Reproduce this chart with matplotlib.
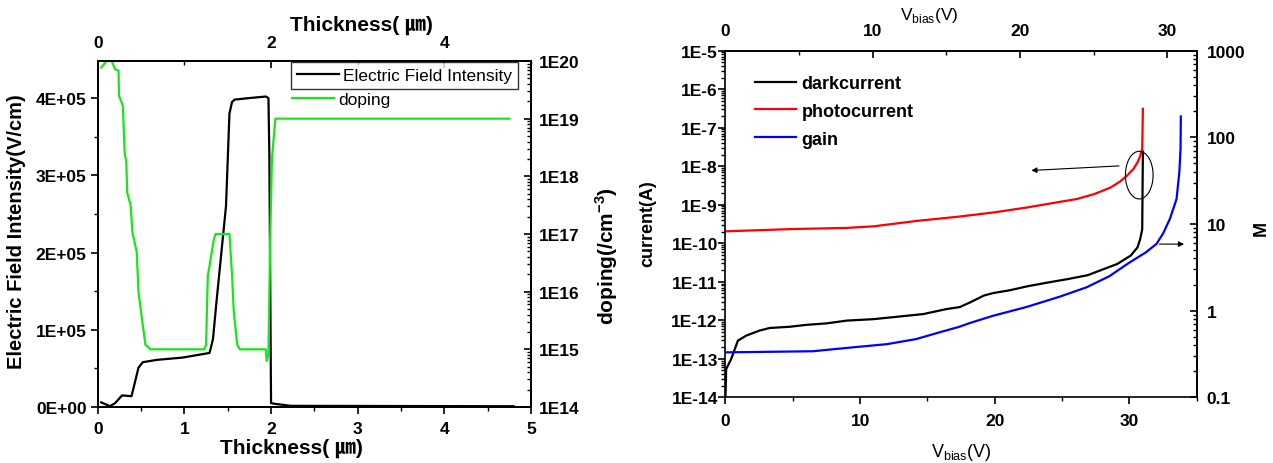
import math
import matplotlib
matplotlib.use('Agg')
import matplotlib.pyplot as plt
from matplotlib.ticker import MultipleLocator, LogLocator, FuncFormatter, NullFormatter
from matplotlib.patches import Ellipse

plt.rcParams['font.family'] = ['Liberation Sans', 'Noto Sans CJK JP', 'DejaVu Sans']
plt.rcParams['mathtext.fontset'] = 'custom'
plt.rcParams['mathtext.rm'] = 'Liberation Sans'
plt.rcParams['mathtext.bf'] = 'Liberation Sans:bold'

# Левый график: напряжённость поля и легирование по толщине
thick_e = [0.04, 0.10, 0.14, 0.20, 0.28, 0.39, 0.47, 0.52, 0.68, 0.98, 1.29, 1.33,
           1.37, 1.48, 1.52, 1.55, 1.58, 1.75, 1.94, 1.97, 1.98, 2.00, 2.05, 2.23, 4.80]
e_field = [6e3, 3e3, 1e3, 5e3, 1.5e4, 1.4e4, 5.1e4, 5.8e4, 6.1e4, 6.4e4, 7.0e4, 8.8e4,
           1.36e5, 2.6e5, 3.8e5, 3.95e5, 3.98e5, 4.0e5, 4.02e5, 4.0e5, 3.3e5, 5e3, 4e3, 1.5e3, 1e3]

thick_d = [0.04, 0.10, 0.16, 0.20, 0.24, 0.245, 0.29, 0.31, 0.33, 0.34, 0.38, 0.40, 0.45,
           0.47, 0.52, 0.55, 0.61, 1.23, 1.25, 1.27, 1.29, 1.34, 1.36, 1.52, 1.55, 1.57,
           1.61, 1.64, 1.94, 1.95, 1.97, 1.99, 2.01, 2.05, 4.75]
doping = [7.7e19, 1e20, 1e20, 7.2e19, 6.8e19, 2.5e19, 1.66e19, 2.6e18, 1.7e18, 5.2e17,
          3.1e17, 1.07e17, 4.8e16, 9.8e15, 2.6e15, 1.2e15, 1.0e15, 1.0e15, 1.2e15, 1.9e16,
          2.8e16, 8.1e16, 1e17, 1e17, 1.9e16, 4.4e15, 1.2e15, 1e15, 1e15, 6.3e14, 8e14,
          7.9e16, 2e18, 1e19, 1e19]

# Правый график: темновой ток, фототок, усиление
v_dark = [0, 0.05, 0.42, 0.92, 1.54, 2.53, 3.28, 4.8, 6.0, 7.5, 9.0, 11.0, 13.0, 14.7,
          16.4, 17.4, 18.2, 19.2, 19.9, 21.1, 22.4, 23.9, 25.4, 26.9, 28.1, 29.1, 30.1,
          30.6, 30.8, 30.95, 31.0]
i_dark = [1.1e-14, 5.4e-14, 9.8e-14, 2.95e-13, 4.0e-13, 5.4e-13, 6.3e-13, 6.8e-13, 7.6e-13,
          8.3e-13, 9.8e-13, 1.07e-12, 1.26e-12, 1.45e-12, 1.95e-12, 2.2e-12, 2.95e-12,
          4.4e-12, 5.1e-12, 6.0e-12, 7.6e-12, 9.5e-12, 1.17e-11, 1.48e-11, 2.14e-11,
          2.9e-11, 4.8e-11, 7.8e-11, 1.29e-10, 2.3e-10, 2.4e-8]

v_photo = [0, 5.0, 9.0, 11.0, 14.2, 17.3, 19.9, 22.4, 24.9, 26.1, 27.4, 28.6, 29.3, 29.8,
           30.3, 30.6, 30.8, 30.95, 31.0]
i_photo = [2.04e-10, 2.34e-10, 2.5e-10, 2.75e-10, 3.8e-10, 4.9e-10, 6.3e-10, 8.5e-10,
           1.2e-9, 1.41e-9, 1.9e-9, 2.8e-9, 4.0e-9, 5.6e-9, 8.5e-9, 1.26e-8, 1.86e-8,
           2.8e-8, 3.1e-7]

v_gain = [0, 5.93, 8.84, 10.94, 12.95, 14.5, 15.86, 16.6, 18.14, 20.42, 22.7, 24.52,
          26.07, 27.44, 28.54, 29.27, 29.72, 30.18, 30.63, 30.82, 30.9, 30.92]
gain = [0.33, 0.34, 0.38, 0.41, 0.47, 0.56, 0.65, 0.72, 0.87, 1.10, 1.45, 1.86, 2.5, 3.6,
        4.7, 5.9, 7.8, 11.5, 19.5, 40, 74, 174]

green = '#19e619'
TICK_SIZE = 12.5


def style_ticks(ax, axis, direction, pad):
    ax.tick_params(axis=axis, which='major', direction=direction, length=5, width=1.2, pad=pad)
    ax.tick_params(axis=axis, which='minor', direction=direction, length=3, width=1.0)
    labels = ax.get_xticklabels() if axis == 'x' else ax.get_yticklabels()
    for t in labels:
        t.set_fontsize(TICK_SIZE)
        t.set_fontweight('bold')


def exp_label(v, p):
    return '1E%d' % round(math.log10(v))


fig = plt.figure(figsize=(12.73, 4.64), dpi=100)

# ---------- левый график ----------
ax1 = fig.add_axes([0.0768, 0.1207, 0.3403, 0.7457])
ax2 = ax1.twinx()
ax3 = ax1.twiny()

line_e, = ax1.plot(thick_e, e_field, color='black', lw=1.6, label='Electric Field Intensity')
line_d, = ax2.plot(thick_d, doping, color=green, lw=1.6, label='doping')

ax1.set_xlim(0, 5)
ax1.set_ylim(0, 4.48e5)
ax1.xaxis.set_major_locator(MultipleLocator(1))
ax1.xaxis.set_minor_locator(MultipleLocator(0.5))
ax1.yaxis.set_major_locator(MultipleLocator(1e5))
ax1.yaxis.set_minor_locator(MultipleLocator(0.5e5))
ax1.yaxis.set_major_formatter(FuncFormatter(lambda v, p: '0E+00' if v == 0 else '%dE+05' % round(v / 1e5)))

ax2.set_yscale('log')
ax2.set_ylim(1e14, 1e20)
ax2.yaxis.set_major_locator(LogLocator(base=10, numticks=10))
ax2.yaxis.set_minor_locator(LogLocator(base=10, subs=range(2, 10), numticks=100))
ax2.yaxis.set_minor_formatter(NullFormatter())
ax2.yaxis.set_major_formatter(FuncFormatter(exp_label))

ax3.set_xlim(0, 5)
ax3.xaxis.set_major_locator(MultipleLocator(2))
ax3.xaxis.set_minor_locator(MultipleLocator(1))

style_ticks(ax1, 'x', 'out', 5)
style_ticks(ax1, 'y', 'out', 3)
style_ticks(ax2, 'y', 'in', 6)
style_ticks(ax3, 'x', 'in', 8)
for a in (ax1, ax2, ax3):
    for s in a.spines.values():
        s.set_linewidth(1.2)

lab_font = dict(fontsize=15, fontweight='bold')
ax1.set_xlabel('Thickness( ㎛)', **lab_font)
ax1.xaxis.set_label_coords(0.447, -0.09)
ax3.set_xlabel('Thickness( ㎛)', **lab_font)
ax3.xaxis.set_label_coords(0.608, 1.09)
ax1.set_ylabel('Electric Field Intensity(V/cm)', fontsize=14.5, fontweight='bold')
ax1.yaxis.set_label_coords(-0.165, 0.509)
ax2.set_ylabel(r'doping(/cm$^{\mathbf{-3}}$)', fontsize=15, fontweight='bold')
ax2.yaxis.set_label_coords(1.143, 0.44)

leg1 = ax3.legend([line_e], ['Electric Field Intensity'], loc='upper left',
                  bbox_to_anchor=(0.446, 0.998), frameon=True, fancybox=False,
                  edgecolor='black', borderpad=0.35, borderaxespad=0, handlelength=2.4,
                  handletextpad=0.25, prop=dict(size=12.5))
leg1.get_frame().set_linewidth(1.0)
ax3.add_artist(leg1)
ax3.legend([line_d], ['doping'], loc='upper left', bbox_to_anchor=(0.449, 0.912),
           frameon=False, borderpad=0, borderaxespad=0, handlelength=2.4,
           handletextpad=0.25, prop=dict(size=12.5))

# ---------- правый график ----------
rect = [0.5699, 0.1416, 0.3702, 0.7470]
axr = fig.add_axes(rect)
axg = fig.add_axes(rect)
axg.patch.set_visible(False)

l_dark, = axr.plot(v_dark, i_dark, color='black', lw=1.6, label='darkcurrent')
l_photo, = axr.plot(v_photo, i_photo, color='red', lw=1.6, label='photocurrent')
l_gain, = axg.plot(v_gain, gain, color='blue', lw=1.6, label='gain')

axr.set_xlim(0, 35)
axr.set_yscale('log')
axr.set_ylim(1e-14, 1e-5)
axr.xaxis.set_major_locator(MultipleLocator(10))
axr.xaxis.set_minor_locator(MultipleLocator(5))
axr.yaxis.set_major_locator(LogLocator(base=10, numticks=12))
axr.yaxis.set_minor_locator(LogLocator(base=10, subs=range(2, 10), numticks=200))
axr.yaxis.set_minor_formatter(NullFormatter())
axr.yaxis.set_major_formatter(FuncFormatter(exp_label))
axr.tick_params(top=False, right=False)

axg.set_xlim(0, 32)
axg.set_yscale('log')
axg.set_ylim(0.1, 1000)
axg.xaxis.tick_top()
axg.yaxis.tick_right()
axg.xaxis.set_label_position('top')
axg.yaxis.set_label_position('right')
axg.xaxis.set_major_locator(MultipleLocator(10))
axg.xaxis.set_minor_locator(MultipleLocator(5))
axg.yaxis.set_major_locator(LogLocator(base=10, numticks=10))
axg.yaxis.set_minor_locator(LogLocator(base=10, subs=range(2, 10), numticks=100))
axg.yaxis.set_minor_formatter(NullFormatter())
axg.yaxis.set_major_formatter(FuncFormatter(lambda v, p: '%g' % v))
for s in ('bottom', 'left'):
    axg.spines[s].set_visible(False)

style_ticks(axr, 'x', 'out', 6)
style_ticks(axr, 'y', 'out', 0.5)
style_ticks(axg, 'x', 'in', 9)
style_ticks(axg, 'y', 'in', 7)
for a in (axr, axg):
    for s in a.spines.values():
        s.set_linewidth(1.2)

axr.set_xlabel(r'V$_{\mathrm{bias}}$(V)', fontsize=13)
axr.xaxis.set_label_coords(0.5, -0.127)
axg.set_xlabel(r'V$_{\mathrm{bias}}$(V)', fontsize=12.5)
axg.xaxis.set_label_coords(0.432, 1.09)
axr.set_ylabel('current(A)', fontsize=13, fontweight='bold')
axr.yaxis.set_label_coords(-0.146, 0.504)
axg.set_ylabel('M', fontsize=13, fontweight='bold')
axg.yaxis.set_label_coords(1.119, 0.49)

axg.legend([l_dark, l_photo, l_gain], ['darkcurrent', 'photocurrent', 'gain'],
           loc='upper left', bbox_to_anchor=(0.062, 0.93), frameon=False, borderpad=0,
           borderaxespad=0, handlelength=2.3, handletextpad=0.3, labelspacing=0.6,
           prop=dict(size=13, weight='bold'))

# выделение и стрелки
axg.add_patch(Ellipse((0.878, 0.641), 0.0587, 0.1376, transform=axg.transAxes,
                      fill=False, edgecolor='black', lw=0.8))
axg.annotate('', xy=(0.643, 0.654), xytext=(0.841, 0.668), xycoords='axes fraction',
             arrowprops=dict(arrowstyle='-|>', color='black', lw=0.8, mutation_scale=8))
axg.annotate('', xy=(0.979, 0.442), xytext=(0.915, 0.442), xycoords='axes fraction',
             arrowprops=dict(arrowstyle='-|>', color='black', lw=0.8, mutation_scale=8))

fig.savefig('out.png', dpi=100)
